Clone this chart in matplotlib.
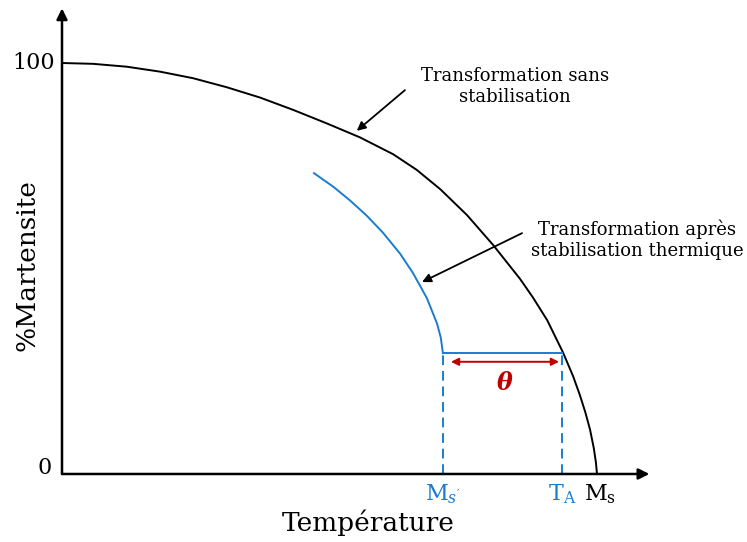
import matplotlib
matplotlib.use('Agg')
import matplotlib.pyplot as plt

plt.rcParams.update({
    'font.family': 'DejaVu Serif',
    'mathtext.fontset': 'custom',
    'mathtext.rm': 'DejaVu Serif',
    'mathtext.it': 'DejaVu Serif:italic',
    'mathtext.bf': 'DejaVu Serif:bold:italic',
})

BLUE = '#1a7ccf'
RED = '#c00000'

# Courbe sans stabilisation (Temperature rel. a Ms = 100, % martensite)
T_SANS = [0, 5.8, 12.1, 18.3, 24.5, 30.8, 37.0, 43.2, 49.5, 55.7, 61.9, 66.3, 70.7,
          75.7, 80.6, 85.6, 88.0, 90.7, 93.6, 95.5, 96.8, 97.8, 98.7, 99.4, 99.8, 100]
M_SANS = [100, 99.8, 99.1, 97.9, 96.3, 94.1, 91.6, 88.6, 85.3, 81.9, 77.8, 74.0, 69.3,
          63.0, 55.7, 47.5, 43.0, 37.4, 29.7, 23.9, 19.2, 15.1, 10.8, 6.3, 2.8, 0]

# Courbe apres stabilisation thermique
T_STAB = [47.1, 50.7, 53.8, 57.0, 60.0, 63.2, 65.6, 68.2, 70.1, 70.8, 71.2]
M_STAB = [73.2, 69.9, 66.6, 62.8, 58.7, 53.6, 48.9, 42.8, 36.6, 33.2, 29.4]

MS_PRIME = 71.2
T_A = 93.5
PLATEAU = 29.4

fig = plt.figure(figsize=(7.47, 5.42), dpi=100)
ax = fig.add_axes([0, 0, 1, 1])
ax.set_xlim(-11.59, 128.04)
ax.set_ylim(-16.55, 115.33)
ax.axis('off')

# axes avec fleches
ax.annotate('', xy=(109.8, 0), xytext=(0, 0),
            arrowprops=dict(arrowstyle='-|>', color='black', lw=1.8, mutation_scale=16,
                            shrinkA=0, shrinkB=0))
ax.annotate('', xy=(0, 113.3), xytext=(0, 0),
            arrowprops=dict(arrowstyle='-|>', color='black', lw=1.8, mutation_scale=16,
                            shrinkA=0, shrinkB=0))

ax.plot(T_SANS, M_SANS, color='black', lw=1.4, solid_joinstyle='round')
ax.plot(T_STAB, M_STAB, color=BLUE, lw=1.4, solid_joinstyle='round')
ax.plot([MS_PRIME, T_A], [PLATEAU, PLATEAU], color=BLUE, lw=1.4)
for t in (MS_PRIME, T_A):
    ax.plot([t, t], [0, PLATEAU], color=BLUE, lw=1.4, ls=(0, (5, 3)))

# theta
ax.annotate('', xy=(92.9, 27.3), xytext=(72.7, 27.3),
            arrowprops=dict(arrowstyle='<|-|>', color=RED, lw=1.4, mutation_scale=11,
                            shrinkA=0, shrinkB=0))
ax.text(82.8, 21.9, r'$\mathbf{\theta}$', color=RED, fontsize=17, ha='center', va='center')

# graduations
ax.text(-1.3, 100, '100', ha='right', va='center', fontsize=16)
ax.text(-1.9, 1.5, '0', ha='right', va='center', fontsize=16)
ax.text(MS_PRIME, -4.8, r"M$_{s'}$", color=BLUE, ha='center', va='center', fontsize=16)
ax.text(T_A, -4.8, r"T$_\mathrm{A}$", color=BLUE, ha='center', va='center', fontsize=16)
ax.text(100.6, -4.8, r"M$_\mathrm{s}$", color='black', ha='center', va='center', fontsize=16)

ax.text(57.2, -11.9, 'Température', ha='center', va='center', fontsize=19)
ax.text(-6.6, 50.9, '%Martensite', ha='center', va='center', rotation=90, fontsize=19)

# annotations
ax.annotate('', xy=(55.1, 83.5), xytext=(64.1, 93.4),
            arrowprops=dict(arrowstyle='-|>', color='black', lw=1.3, mutation_scale=13,
                            shrinkA=0, shrinkB=0))
ax.text(84.7, 94.3, 'Transformation sans\nstabilisation', ha='center', va='center',
        fontsize=13, linespacing=1.2)
ax.annotate('', xy=(67.3, 46.7), xytext=(86.0, 58.6),
            arrowprops=dict(arrowstyle='-|>', color='black', lw=1.3, mutation_scale=13,
                            shrinkA=0, shrinkB=0))
ax.text(107.5, 57.0, 'Transformation après\nstabilisation thermique', ha='center',
        va='center', fontsize=13, linespacing=1.2)

fig.savefig('out.png', dpi=100)
